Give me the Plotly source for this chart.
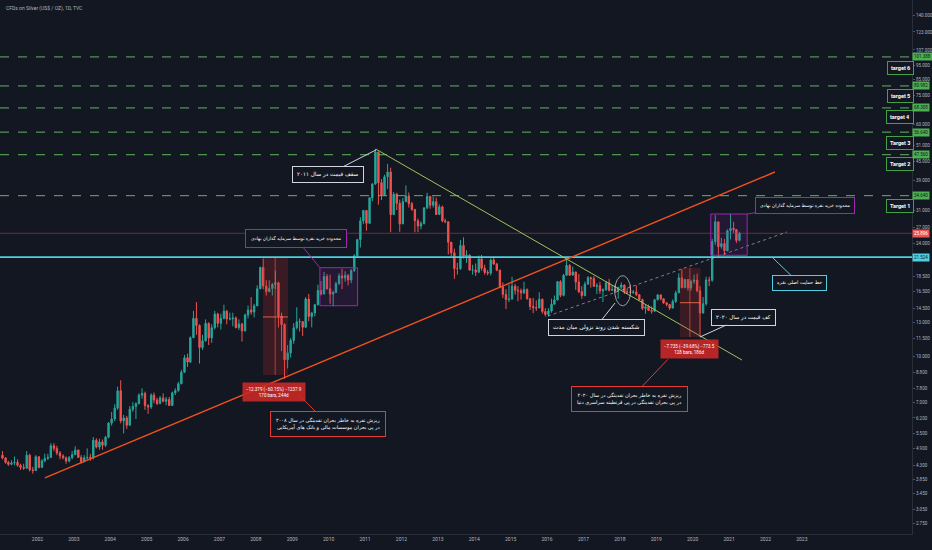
import math
import datetime
import plotly.graph_objects as go

# ---------------- data (monthly) ----------------
FIRST_YEAR = 2001
FIRST_OPEN = 4.65
CLOSE = [
    4.55, 4.40, 4.33, 4.38, 4.40, 4.30, 4.23, 4.20, 4.65, 4.15, 4.13, 4.59,        # 2001
    4.23, 4.45, 4.53, 4.57, 5.00, 4.90, 4.73, 4.62, 4.56, 4.44, 4.56, 4.67,        # 2002
    4.84, 4.57, 4.42, 4.55, 4.57, 4.55, 5.22, 4.95, 5.15, 5.02, 5.34, 5.96,        # 2003
    6.15, 6.69, 7.65, 6.06, 6.20, 5.86, 6.63, 6.77, 6.92, 7.40, 7.50, 6.82,        # 2004
    6.75, 7.40, 7.13, 6.93, 7.24, 7.06, 7.15, 6.83, 7.53, 7.66, 8.08, 8.83,        # 2005
    9.88, 9.56, 11.54, 13.40, 12.69, 10.70, 11.27, 12.89, 11.52, 12.47, 13.86, 12.90,  # 2006
    13.41, 14.17, 13.34, 13.35, 13.44, 12.48, 12.83, 12.17, 13.77, 14.30, 14.07, 14.76,  # 2007
    16.85, 19.88, 17.22, 16.50, 16.90, 17.44, 17.65, 13.64, 12.78, 9.73, 10.26, 11.30,  # 2008
    12.46, 13.04, 13.07, 12.51, 15.57, 13.60, 13.97, 14.90, 16.63, 16.17, 18.53, 16.85,  # 2009
    16.17, 16.37, 17.53, 18.62, 18.33, 18.69, 18.04, 19.40, 21.76, 24.64, 28.52, 30.91,  # 2010
    27.97, 34.07, 37.89, 48.60, 38.33, 34.85, 40.08, 41.59, 29.91, 35.03, 32.65, 27.85,  # 2011
    33.07, 34.54, 32.56, 31.16, 28.54, 27.39, 27.93, 31.54, 34.47, 32.17, 33.06, 29.95,  # 2012
    31.76, 28.49, 28.32, 24.17, 22.27, 19.72, 19.72, 23.55, 21.71, 21.88, 19.47, 19.50,  # 2013
    19.15, 21.23, 19.75, 19.12, 19.02, 21.05, 20.40, 19.48, 17.07, 16.14, 15.52, 15.56,  # 2014
    17.19, 16.65, 16.60, 16.33, 16.75, 15.60, 14.69, 14.56, 14.53, 15.55, 14.13, 13.82,  # 2015
    14.19, 14.96, 15.46, 17.81, 16.02, 18.71, 20.18, 18.73, 19.20, 17.76, 16.48, 15.99,  # 2016
    17.47, 18.36, 18.23, 17.18, 17.27, 16.58, 16.73, 17.63, 16.67, 16.74, 16.59, 17.05,  # 2017
    17.35, 16.45, 16.42, 16.39, 16.44, 16.11, 15.50, 14.48, 14.67, 14.25, 14.17, 15.47,  # 2018
    16.07, 15.60, 15.11, 14.93, 14.51, 15.27, 16.33, 18.34, 17.02, 18.11, 16.97, 17.85,  # 2019
    18.02, 16.60, 13.97, 15.01, 18.02, 18.00, 24.28, 28.29, 23.35, 23.90, 22.63, 26.41,  # 2020
    26.91, 26.67, 24.50, 25.90,                                                      # 2021
]
HIGH = [
    4.80, 4.58, 4.45, 4.47, 4.60, 4.50, 4.35, 4.35, 4.80, 4.70, 4.25, 4.65,
    4.62, 4.50, 4.70, 4.70, 5.10, 5.10, 5.00, 4.80, 4.68, 4.60, 4.62, 4.80,
    4.98, 4.85, 4.65, 4.65, 4.90, 4.70, 5.35, 5.30, 5.28, 5.25, 5.40, 6.00,
    6.50, 6.90, 7.90, 8.30, 6.35, 6.30, 6.80, 7.00, 7.00, 7.50, 7.80, 7.60,
    6.90, 7.50, 7.55, 7.25, 7.35, 7.50, 7.30, 7.30, 7.60, 7.80, 8.20, 9.00,
    10.10, 10.20, 11.65, 14.20, 15.20, 12.80, 11.80, 13.30, 13.00, 12.80, 14.20, 14.00,
    13.90, 14.90, 14.30, 14.00, 14.00, 13.60, 13.30, 12.95, 13.90, 14.80, 15.80, 15.00,
    17.30, 20.00, 21.30, 18.00, 18.00, 17.60, 19.40, 17.80, 14.00, 12.90, 10.90, 11.50,
    12.90, 14.60, 13.40, 13.10, 15.80, 16.20, 14.10, 15.00, 17.40, 17.90, 19.20, 18.90,
    18.80, 16.60, 17.80, 19.00, 19.70, 19.30, 18.90, 19.60, 22.00, 24.80, 29.30, 31.00,
    30.80, 34.20, 38.20, 49.80, 48.00, 39.40, 40.70, 44.30, 43.00, 35.60, 35.40, 33.60,
    34.00, 37.50, 35.50, 33.00, 31.20, 29.00, 28.40, 31.60, 35.40, 34.50, 34.40, 34.10,
    32.40, 32.10, 29.00, 28.30, 24.00, 23.00, 20.60, 24.60, 25.10, 22.70, 22.00, 20.30,
    20.50, 21.80, 21.90, 20.30, 19.50, 21.30, 21.60, 20.60, 19.50, 17.70, 16.80, 17.40,
    18.50, 17.50, 17.20, 16.90, 17.80, 16.90, 15.70, 15.70, 15.40, 16.40, 15.60, 14.50,
    14.50, 15.60, 16.00, 17.90, 18.00, 18.90, 21.10, 20.40, 20.00, 19.20, 18.90, 17.20,
    17.80, 18.60, 18.50, 18.60, 17.60, 17.80, 16.90, 17.90, 18.20, 17.40, 17.40, 17.10,
    17.70, 17.40, 16.90, 17.40, 16.70, 17.30, 16.10, 15.60, 14.90, 14.90, 14.70, 15.60,
    16.20, 16.10, 15.60, 15.20, 14.95, 15.50, 16.60, 19.00, 19.60, 18.20, 18.10, 18.10,
    18.80, 18.95, 17.20, 15.80, 18.50, 18.50, 24.80, 29.80, 28.00, 25.00, 24.80, 26.70,
    30.10, 28.30, 26.10, 26.20,
]
LOW = [
    4.50, 4.35, 4.28, 4.30, 4.30, 4.25, 4.15, 4.15, 4.20, 4.10, 4.03, 4.12,
    4.20, 4.22, 4.40, 4.48, 4.55, 4.80, 4.65, 4.50, 4.50, 4.35, 4.40, 4.50,
    4.65, 4.55, 4.35, 4.40, 4.50, 4.45, 4.50, 4.90, 4.85, 4.85, 4.95, 5.30,
    5.85, 6.05, 6.60, 5.95, 5.50, 5.70, 5.85, 6.50, 6.15, 6.90, 7.20, 6.60,
    6.40, 6.65, 6.95, 6.85, 6.90, 7.00, 6.85, 6.80, 6.80, 7.40, 7.60, 8.05,
    8.80, 9.20, 9.50, 11.50, 11.80, 9.45, 10.50, 11.20, 10.90, 11.10, 12.30, 12.50,
    12.30, 13.30, 12.80, 13.20, 12.60, 12.40, 12.25, 11.20, 12.10, 13.40, 13.80, 13.50,
    14.80, 16.90, 16.80, 16.00, 16.40, 16.00, 16.80, 12.50, 10.40, 8.40, 9.10, 9.90,
    11.00, 12.30, 12.10, 11.70, 12.50, 13.10, 12.50, 13.60, 14.80, 16.00, 16.30, 16.75,
    15.00, 14.70, 16.30, 17.40, 16.80, 17.80, 17.30, 17.60, 19.20, 21.60, 23.20, 27.80,
    26.40, 27.90, 33.20, 37.70, 32.30, 33.50, 34.60, 36.50, 26.10, 30.00, 31.00, 26.20,
    27.80, 33.00, 31.60, 30.80, 26.10, 26.10, 26.70, 27.70, 31.20, 31.30, 31.60, 29.90,
    30.10, 28.20, 28.00, 22.00, 21.70, 18.20, 18.80, 19.50, 21.30, 20.60, 19.40, 18.80,
    18.60, 19.10, 19.40, 18.80, 18.70, 18.70, 20.30, 19.30, 17.00, 15.70, 14.40, 15.20,
    15.50, 16.10, 15.30, 15.50, 16.20, 15.50, 14.30, 13.95, 14.20, 14.50, 13.90, 13.60,
    13.60, 14.00, 14.90, 15.40, 15.80, 15.90, 18.70, 18.60, 18.70, 16.70, 16.30, 15.60,
    15.90, 17.40, 17.00, 17.10, 16.20, 16.20, 15.20, 16.60, 16.50, 16.60, 16.30, 15.60,
    16.80, 16.20, 16.20, 16.40, 16.20, 15.90, 15.40, 14.30, 13.90, 14.20, 13.90, 14.10,
    15.40, 15.40, 15.00, 14.70, 14.30, 14.60, 15.10, 16.30, 16.90, 16.90, 16.60, 16.60,
    17.50, 16.40, 11.60, 13.90, 14.80, 17.20, 17.80, 23.70, 21.70, 23.00, 21.90, 22.50,
    24.70, 26.00, 24.00, 24.30,
]

LAST_PRICE = 25.896
SUPPORT = 21.524
TARGETS = [101.388, 80.982, 68.308, 56.640, 47.560, 34.640]
TARGET_NAMES = ["target 6", "target 5", "target 4", "Target 3", "Target 2", "Target 1"]
TARGET_NAME_PRICE = [93.4, 75.2, 63.9, 52.1, 44.3, 32.1]

Y_TICKS = [140, 123, 107, 95, 85, 75, 60, 51, 45, 39, 31, 27, 24, 18.5, 16.5, 14.5,
           13, 11.5, 10, 8.8, 7.8, 7, 6.2, 5.5, 4.9, 4.3, 3.85, 3.45, 3.05, 2.75]
YEARS = list(range(2001, 2024))

# drawings (date, price)
RED_TREND = (["2002-03-16", "2022-04-05"], [3.90, 41.6])
GREEN_TREND = (["2011-04-28", "2021-05-10"], [49.5, 9.71])
DOTTED_TREND = (["2016-01-10", "2022-08-04"], [13.65, 26.15])
BOX_INST_1 = (["2009-10-05", "2010-10-18"], [14.78, 19.84])
BOX_INST_2 = (["2020-07-01", "2021-07-01"], [21.84, 30.06])
RANGE_2008 = (["2008-03-13", "2008-11-18"], [8.65, 21.39], "2008-07-13", 13.55)
RANGE_2020 = (["2019-08-26", "2020-03-20"], [11.60, 19.80], "2019-12-04", 15.13)
ELLIPSE_C = ("2018-01-29", 16.60)

X_RANGE = ["2000-12-21", "2026-01-10"]
Y_RANGE = [2.526, 157.5]

BG = "#131722"

# ---------------- build ----------------
dates = []
for i in range(len(CLOSE)):
    y = FIRST_YEAR + i // 12
    m = i % 12 + 1
    dates.append(f"{y}-{m:02d}-15")
OPEN = [FIRST_OPEN] + CLOSE[:-1]

fig = go.Figure()
fig.add_trace(go.Candlestick(
    x=dates, open=OPEN, high=HIGH, low=LOW, close=CLOSE,
    increasing=dict(line=dict(color="#26a69a", width=1), fillcolor="#26a69a"),
    decreasing=dict(line=dict(color="#ef5350", width=1), fillcolor="#ef5350"),
    whiskerwidth=0, showlegend=False, hoverinfo="skip"))


def line(xs, ys, color, width=1, dash="solid"):
    fig.add_trace(go.Scatter(x=xs, y=ys, mode="lines", showlegend=False, hoverinfo="skip",
                             line=dict(color=color, width=width, dash=dash)))


def rect(xs, ys, color, fill, width=1):
    fig.add_trace(go.Scatter(x=[xs[0], xs[1], xs[1], xs[0], xs[0]],
                             y=[ys[0], ys[0], ys[1], ys[1], ys[0]],
                             mode="lines", fill="toself", fillcolor=fill,
                             line=dict(color=color, width=width),
                             showlegend=False, hoverinfo="skip"))


# horizontal levels
for t in TARGETS:
    line(X_RANGE, [t, t], "#5fb760", 1, "dash")
line(X_RANGE, [LAST_PRICE, LAST_PRICE], "rgba(180,60,90,0.55)", 1)
line(X_RANGE, [SUPPORT, SUPPORT], "#4dd0e1", 1.6)

# trend lines
line(*RED_TREND, "#f4511e", 1.4)
line(*GREEN_TREND, "#9fc35a", 1)
line(*DOTTED_TREND, "rgba(200,200,200,0.6)", 1, "dot")

# institutional buying boxes
rect(*BOX_INST_1, "#9c27b0", "rgba(156,39,176,0.12)")
rect(*BOX_INST_2, "#9c27b0", "rgba(156,39,176,0.12)")

# price range measurements
for xs, ys, xm, ym in [RANGE_2008, RANGE_2020]:
    rect(xs, ys, "rgba(0,0,0,0)", "rgba(200,40,40,0.22)", 0)
    line(xs, [ym, ym], "rgba(255,120,80,0.8)", 1)
    line([xm, xm], ys, "rgba(255,90,90,0.6)", 1)

# ellipse around breakout
ex, ey = [], []
c_date = datetime.datetime.strptime(ELLIPSE_C[0], "%Y-%m-%d")
for k in range(61):
    a = 2 * math.pi * k / 60
    d = c_date + datetime.timedelta(days=0.22 * 365.25 * math.cos(a))
    ex.append(d.strftime("%Y-%m-%d %H:%M"))
    ey.append(math.exp(math.log(ELLIPSE_C[1]) + 0.116 * math.sin(a)))
line(ex, ey, "rgba(220,220,220,0.85)", 0.8)

# ---------------- annotations ----------------
FA = "DejaVu Sans"
L10 = math.log10


def callout(x, y, text, ax, ay, border, size=6, pad=3):
    fig.add_annotation(x=x, y=L10(y), text=text, showarrow=True, arrowhead=0,
                       arrowwidth=1, arrowcolor=border, ax=ax, ay=ay, standoff=0,
                       bgcolor=BG, bordercolor=border, borderwidth=1, borderpad=pad,
                       font=dict(family=FA, size=size, color="#ffffff"), align="right")


callout("2011-04-28", 49.5, "سقف قیمت در سال ۲۰۱۱", -49, 25, "#d1d4dc", 5.6, 4)
callout("2009-10-05", 19.84, "محدوده خرید نقره توسط سرمایه گذاران نهادی", -24, -29, "#9c27b0", 4.6, 5)
callout("2021-07-01", 30.06, "محدوده خرید نقره توسط سرمایه گذاران نهادی", 58, -9, "#9c27b0", 4.6, 4)
callout("2022-03-08", SUPPORT, "خط حمایت اصلی نقره", 27, 26, "#4dd0e1", 4.8, 4)
callout("2017-11-13", 15.09, "شکسته شدن روند نزولی میان مدت", -19, 24, "#d1d4dc", 5.8, 4)
callout("2020-03-14", 11.6, "کف قیمت در سال ۲۰۲۰", 44, -20, "#d1d4dc", 5.4, 4)
callout("2009-02-27", 7.46,
        "ریزش نقره به خاطر بحران نقدینگی در سال ۲۰۰۸<br>در پی بحران موسسات مالی و بانک های آمریکایی",
        30, 30, "#e53935", 5.0, 5)
callout("2019-04-27", 9.76,
        "ریزش نقره به خاطر بحران نقدینگی در سال ۲۰۲۰<br>در پی بحران نقدینگی در پی قرنطینه سراسری دنیا",
        -38, 40, "#e53935", 5.0, 5)

for x, y, t in [("2008-07-01", 7.60, "−12.379 (−60.15%) −1237.9<br>170 bars, 244d"),
                ("2019-12-04", 10.57, "−7.735 (−39.68%) −773.5<br>128 bars, 186d")]:
    fig.add_annotation(x=x, y=L10(y), text=t, showarrow=False, bgcolor="rgba(198,40,40,0.92)",
                       borderpad=3, font=dict(family="Roboto", size=4.5, color="#ffffff"))

for name, p in zip(TARGET_NAMES, TARGET_NAME_PRICE):
    fig.add_annotation(x="2025-09-12", y=L10(p), text="<b>" + name + "</b>", showarrow=False,
                       bgcolor=BG, bordercolor="#43a047", borderwidth=1, borderpad=3,
                       font=dict(family="Roboto", size=5.5, color="#ffffff"))


# right-axis price tags
def tag(v, bg, fg):
    fig.add_annotation(xref="paper", x=1.0, xanchor="left", y=L10(v), yanchor="middle",
                       text=f"{v:.3f}", showarrow=False, bgcolor=bg, borderpad=1,
                       font=dict(family="Roboto", size=4.5, color=fg))


for t in TARGETS:
    tag(t, "#4caf50", "#131722")
tag(LAST_PRICE, "#ef5350", "#ffffff")
tag(SUPPORT, "#4dd0e1", "#131722")

# title
fig.add_annotation(xref="paper", yref="paper", x=0.004, y=0.995, xanchor="left", yanchor="top",
                   text="CFDs on Silver (US$ / OZ), 1D, TVC", showarrow=False,
                   font=dict(family="Roboto", size=5, color="#b2b5be"))

fig.update_layout(
    width=932, height=550,
    margin=dict(l=0, r=20, t=0, b=16, autoexpand=False),
    paper_bgcolor=BG, plot_bgcolor=BG,
    showlegend=False,
    xaxis=dict(type="date", range=X_RANGE, rangeslider=dict(visible=False),
               tickvals=[f"{y}-01-01" for y in YEARS], ticktext=[str(y) for y in YEARS],
               showgrid=False, zeroline=False, showline=True, linecolor="#2a2e39",
               tickfont=dict(family="Roboto", size=5, color="#b2b5be"), ticks=""),
    yaxis=dict(type="log", range=[L10(Y_RANGE[0]), L10(Y_RANGE[1])], side="right",
               tickvals=Y_TICKS, ticktext=[f"{v:.3f}" for v in Y_TICKS],
               showgrid=False, zeroline=False, showline=True, linecolor="#2a2e39",
               ticks="outside", ticklen=2, tickcolor="#50535e",
               tickfont=dict(family="Roboto", size=4.5, color="#b2b5be")),
)

fig.write_html("out.html", config={"displayModeBar": False},
               post_script="document.body.style.margin='0';document.body.style.background='#131722';")
